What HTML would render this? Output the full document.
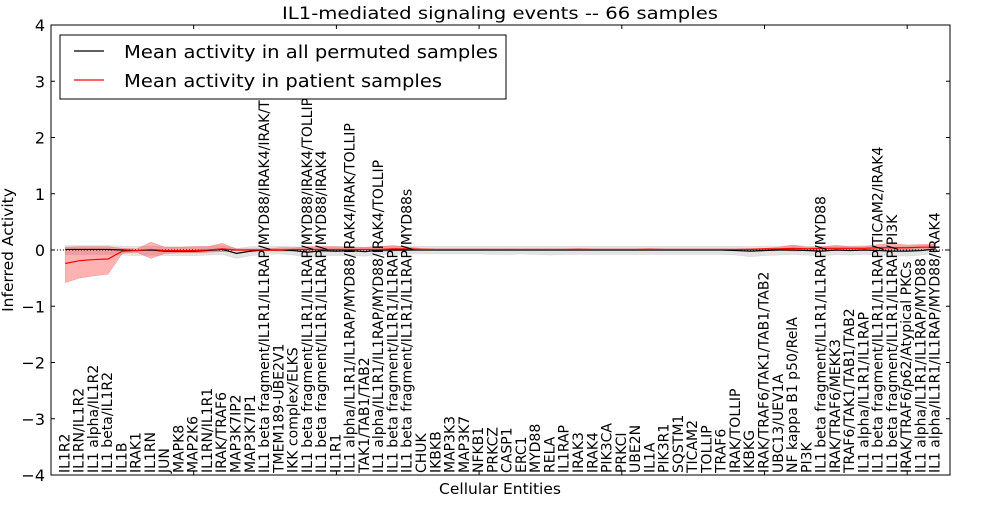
<!DOCTYPE html>
<html><head><meta charset="utf-8"><style>
body{margin:0;background:#fff;width:1000px;height:500px;overflow:hidden}
svg text{font-family:"DejaVu Sans","Liberation Sans",sans-serif;fill:#000}
</style></head><body>
<svg id="c" width="1000" height="500"></svg>
<script>
const labels=["IL1R2","IL1RN/IL1R2","IL1 alpha/IL1R2","IL1 beta/IL1R2","IL1B","IRAK1","IL1RN","JUN","MAPK8","MAP2K6","IL1RN/IL1R1","IRAK/TRAF6","MAP3K7IP2","MAP3K7IP1","IL1 beta fragment/IL1R1/IL1RAP/MYD88/IRAK4/IRAK/TOLLIP","TMEM189-UBE2V1","IKK complex/ELKS","IL1 beta fragment/IL1R1/IL1RAP/MYD88/IRAK4/TOLLIP","IL1 beta fragment/IL1R1/IL1RAP/MYD88/IRAK4","IL1R1","IL1 alpha/IL1R1/IL1RAP/MYD88/IRAK4/IRAK/TOLLIP","TAK1/TAB1/TAB2","IL1 alpha/IL1R1/IL1RAP/MYD88/IRAK4/TOLLIP","IL1 beta fragment/IL1R1/IL1RAP","IL1 beta fragment/IL1R1/IL1RAP/MYD88s","CHUK","IKBKB","MAP3K3","MAP3K7","NFKB1","PRKCZ","CASP1","ERC1","MYD88","RELA","IL1RAP","IRAK3","IRAK4","PIK3CA","PRKCI","UBE2N","IL1A","PIK3R1","SQSTM1","TICAM2","TOLLIP","TRAF6","IRAK/TOLLIP","IKBKG","IRAK/TRAF6/TAK1/TAB1/TAB2","UBC13/UEV1A","NF kappa B1 p50/RelA","PI3K","IL1 beta fragment/IL1R1/IL1RAP/MYD88","IRAK/TRAF6/MEKK3","TRAF6/TAK1/TAB1/TAB2","IL1 alpha/IL1R1/IL1RAP","IL1 beta fragment/IL1R1/IL1RAP/TICAM2/IRAK4","IL1 beta fragment/IL1R1/IL1RAP/PI3K","IRAK/TRAF6/p62/Atypical PKCs","IL1 alpha/IL1R1/IL1RAP/MYD88","IL1 alpha/IL1R1/IL1RAP/MYD88/IRAK4"];
const permMean=[0.01,0.01,0.01,0.01,0,-0.01,0,-0.02,-0.02,-0.02,-0.01,0.01,-0.06,-0.02,0,0,-0.01,-0.04,-0.01,-0.02,-0.01,-0.03,0,0,0,0,0,0,0,0,0,0,0,0,0,0,0,0,0,0,0,0,0,0,0,0,0,-0.01,-0.02,-0.01,0,0,-0.01,-0.02,0,-0.01,0,-0.01,-0.02,-0.02,-0.01,0.02];
const permLow=[-0.08,-0.08,-0.08,-0.08,-0.09,-0.1,-0.09,-0.1,-0.1,-0.1,-0.09,-0.08,-0.15,-0.1,-0.08,-0.07,-0.09,-0.13,-0.1,-0.1,-0.1,-0.11,-0.08,-0.08,-0.07,-0.07,-0.07,-0.07,-0.07,-0.07,-0.08,-0.08,-0.07,-0.08,-0.09,-0.08,-0.08,-0.08,-0.08,-0.08,-0.08,-0.08,-0.08,-0.08,-0.08,-0.08,-0.08,-0.09,-0.12,-0.1,-0.09,-0.08,-0.09,-0.11,-0.08,-0.09,-0.08,-0.09,-0.1,-0.11,-0.09,-0.06];
const permHigh=[0.08,0.08,0.08,0.08,0.07,0.06,0.07,0.06,0.06,0.06,0.07,0.08,0.03,0.06,0.07,0.07,0.06,0.05,0.07,0.06,0.06,0.05,0.07,0.07,0.07,0.07,0.07,0.07,0.07,0.07,0.07,0.07,0.07,0.07,0.07,0.07,0.07,0.07,0.07,0.07,0.07,0.07,0.07,0.07,0.07,0.07,0.07,0.07,0.06,0.07,0.07,0.08,0.07,0.06,0.08,0.07,0.08,0.07,0.07,0.07,0.08,0.1];
const patMean=[-0.24,-0.19,-0.17,-0.16,-0.02,-0.01,0.01,-0.01,-0.01,-0.01,0,0.02,0,0,0,0,0.01,0.01,0.01,0.01,0.01,0.01,0.01,0.02,0.02,0.01,0.01,0.01,0.01,0.01,0.01,0.01,0.01,0.01,0.01,0.01,0.01,0.01,0.01,0.01,0.01,0.01,0.01,0.01,0.01,0.01,0.01,0.01,0.01,0.02,0.02,0.03,0.02,0.03,0.03,0.03,0.03,0.04,0.04,0.04,0.05,0.05];
const patLow=[-0.58,-0.5,-0.46,-0.43,-0.06,-0.04,-0.15,-0.06,-0.05,-0.05,-0.04,-0.03,-0.01,-0.01,-0.01,-0.02,-0.02,-0.03,-0.03,-0.03,-0.03,-0.02,-0.02,-0.02,-0.01,0,0,0,0,0,0,0,0,0,0,0,0,0,0,0,0,0,0,0,0,0,0,0,0,0,0,-0.02,-0.01,0,-0.01,0,0,0,0.01,0,0.01,0.01];
const patHigh=[0.05,0.06,0.06,0.06,0.03,0.02,0.14,0.05,0.05,0.06,0.06,0.12,0.02,0.02,0.02,0.04,0.04,0.06,0.06,0.06,0.05,0.05,0.06,0.08,0.05,0.03,0.02,0.02,0.02,0.02,0.02,0.02,0.02,0.02,0.02,0.02,0.03,0.02,0.02,0.02,0.02,0.03,0.02,0.02,0.02,0.02,0.02,0.02,0.03,0.03,0.05,0.09,0.05,0.06,0.08,0.06,0.06,0.1,0.12,0.09,0.1,0.1];
const yTicks=[-4,-3,-2,-1,0,1,2,3,4];
const xTicks=[10,20,30,40,50,60];

const svg=document.getElementById('c');
const NS='http://www.w3.org/2000/svg';
const L=51,R=950,T=25,B=475;
const X=v=>L+(v/63)*(R-L);
const Y=v=>T+(4-v)/8*(B-T);
function mk(tag,attrs,parent){const e=document.createElementNS(NS,tag);for(const k in attrs)e.setAttribute(k,attrs[k]);(parent||svg).appendChild(e);return e;}

const defs=mk('defs',{});
const cp=mk('clipPath',{id:'clip'},defs);
mk('rect',{x:L,y:T,width:R-L,height:B-T},cp);
const g=mk('g',{'clip-path':'url(#clip)'});

function band(lo,hi,fill,op,name){
  let d='';
  lo.forEach((v,i)=>{d+=(i?'L':'M')+X(i+1)+','+Y(hi[i]);});
  for(let i=lo.length-1;i>=0;i--)d+='L'+X(i+1)+','+Y(lo[i]);
  const p=mk('path',{d:d+'Z',fill:fill,'fill-opacity':op,stroke:fill,'stroke-opacity':op,'stroke-width':0.5},g);
  
  
}
function line(vals,color,name){
  const pts=vals.map((v,i)=>X(i+1)+','+Y(v)).join(' ');
  const p=mk('polyline',{points:pts,fill:'none',stroke:color,'stroke-width':1.2},g);
  
  
}
band(permLow,permHigh,'#b0b0b0',0.35,'permuted-band');
band(patLow,patHigh,'#ff0000',0.3,'patient-band');
mk('line',{x1:L,x2:R,y1:Y(0),y2:Y(0),stroke:'#000','stroke-dasharray':'1,2','stroke-width':1},g);
line(permMean,'#000','permuted-mean-line');
line(patMean,'#ff0000','patient-mean-line');

labels.forEach((s,i)=>{
  const x=X(i+1)+4,y=473;
  const t=mk('text',{x:x,y:y,transform:`rotate(-90 ${x} ${y})`,'font-size':14},g);
  t.textContent=s;
  
  
});

yTicks.forEach(v=>{
  const y=Y(v);
  mk('line',{x1:L,x2:L+4,y1:y,y2:y,stroke:'#000'});
  mk('line',{x1:R-4,x2:R,y1:y,y2:y,stroke:'#000'});
  const t=mk('text',{x:L-6,y:y+6,'text-anchor':'end','font-size':16});
  t.textContent=v<0?'\u2212'+(-v):String(v);
  
  
});
xTicks.forEach(v=>{
  const x=X(v);
  mk('line',{x1:x,x2:x,y1:T,y2:T+4,stroke:'#000'});
  mk('line',{x1:x,x2:x,y1:B-4,y2:B,stroke:'#000'});
});
const fr=mk('rect',{x:L,y:T,width:R-L,height:B-T,fill:'none',stroke:'#000','stroke-width':1});



const title=mk('text',{x:500,y:19,'text-anchor':'middle','font-size':17,textLength:436,lengthAdjust:'spacingAndGlyphs'});
title.textContent='IL1-mediated signaling events -- 66 samples';


const xt=mk('text',{x:500,y:494,'text-anchor':'middle','font-size':15.5});
xt.textContent='Cellular Entities';


const yt=mk('text',{x:13,y:250,'text-anchor':'middle','font-size':15.5,transform:'rotate(-90 13 250)'});
yt.textContent='Inferred Activity';



const lg=mk('g',{});


mk('rect',{x:60,y:35,width:446,height:64,fill:'#fff',stroke:'#000','stroke-width':1},lg);
mk('line',{x1:74,x2:104,y1:51,y2:51,stroke:'#000','stroke-width':1.2},lg);
mk('line',{x1:74,x2:104,y1:80,y2:80,stroke:'#f00','stroke-width':1.2},lg);
const l1=mk('text',{x:124,y:58,'font-size':18,textLength:374,lengthAdjust:'spacingAndGlyphs'},lg);l1.textContent='Mean activity in all permuted samples';


const l2=mk('text',{x:124,y:87,'font-size':18,textLength:318,lengthAdjust:'spacingAndGlyphs'},lg);l2.textContent='Mean activity in patient samples';


</script>
</body></html>
